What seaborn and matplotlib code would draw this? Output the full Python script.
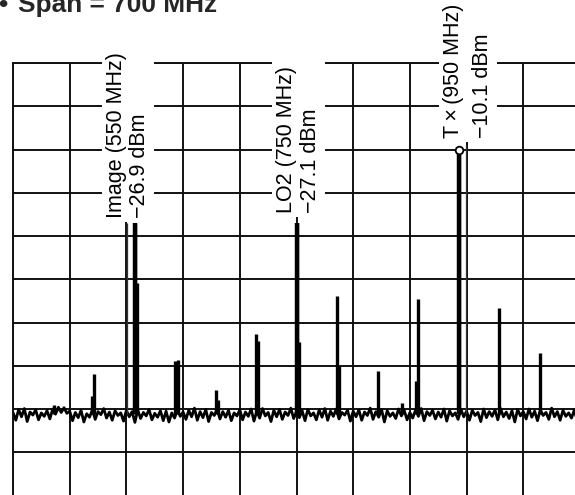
import numpy as np
import pandas as pd
import matplotlib
matplotlib.use("Agg")
import matplotlib.pyplot as plt
import seaborn as sns

# analyzer settings
start_mhz = 400
stop_mhz = 1100
ref_dbm = 10
bottom_dbm = -90
title = "Span = 700 MHz"

# noise floor trace (dBm), 201 samples across the span
noise_dbm = [
    -70.8, -72.6, -70.1, -71.8, -69.9, -72.9, -70.7, -71.4, -70.2, -72.5, -70.9, -71.7, -70.4, -72.3, -70.0, -71.2, -69.6, -70.8, -69.7, -71.0,
    -70.5, -72.7, -70.8, -72.0, -70.3, -73.0, -71.1, -71.9, -70.2, -72.4, -70.6, -71.3, -69.9, -72.1, -70.7, -72.6, -70.4, -71.5, -70.9, -72.8,
    -70.3, -71.8, -70.6, -73.1, -70.2, -72.2, -70.8, -71.6, -70.1, -72.5, -71.0, -71.9, -70.4, -72.7, -70.5, -73.0, -70.9, -72.1, -70.2, -71.7,
    -70.7, -72.4, -70.3, -71.8, -69.8, -72.6, -70.6, -72.0, -70.1, -72.9, -70.8, -71.5, -70.0, -72.3, -70.6, -71.9, -70.3, -72.7, -70.9, -71.6,
    -70.2, -72.5, -70.7, -71.7, -70.0, -72.8, -70.5, -72.1, -69.9, -71.6, -70.8, -72.9, -70.3, -71.8, -70.1, -72.4, -70.7, -71.5, -69.8, -72.2,
    -70.6, -72.0, -70.4, -72.7, -70.1, -71.6, -70.9, -72.5, -70.2, -71.9, -69.9, -72.6, -70.5, -71.7, -70.0, -72.3, -70.8, -71.4, -70.3, -72.8,
    -70.5, -71.8, -70.2, -72.6, -70.7, -71.5, -69.8, -72.4, -70.6, -71.9, -70.1, -73.0, -70.4, -71.7, -70.9, -72.2, -70.0, -71.6, -70.3, -72.5,
    -70.8, -72.1, -70.2, -71.7, -69.9, -72.7, -70.6, -71.5, -70.3, -72.3, -70.7, -71.9, -70.0, -72.8, -70.4, -71.6, -70.9, -72.4, -70.1, -71.8,
    -70.5, -72.6, -70.3, -71.5, -70.8, -72.9, -70.0, -72.0, -70.6, -71.7, -70.2, -72.5, -69.9, -71.8, -70.7, -72.2, -70.4, -73.0, -70.1, -71.6,
    -70.6, -72.3, -70.0, -71.9, -70.5, -72.7, -70.2, -71.5, -70.8, -72.4, -69.8, -71.8, -70.6, -72.6, -70.3, -71.7, -70.9, -72.1, -70.2, -72.8,
    -70.7,
]

# spurs: frequency and peak level
spur_mhz = [450, 500, 550, 600, 650, 700, 750, 800, 850, 880, 900, 950, 1000, 1050]
spur_dbm = [-69.0, -62.0, -26.9, -59.0, -65.5, -52.7, -27.1, -43.9, -61.3, -68.7, -44.6, -10.1, -46.7, -57.1]

# second sample beside some spurs
shoulder_mhz = [497.5, 553, 603.5, 653, 703, 753, 803, 897.5]
shoulder_dbm = [-67.0, -40.9, -58.6, -68.0, -54.3, -54.6, -60.0, -63.6]

# thin marker lines
marker_mhz = [541, 959]
marker_dbm = [-26.9, -9.0]

# labelled signals (anchor = start of the last text line)
label_mhz = [561, 770, 977]
label_dbm = [-25.9, -24.7, -7.4]
label_text = [
    "Image (550 MHz)\n\u221226.9 dBm",
    "LO2 (750 MHz)\n\u221227.1 dBm",
    "T\u2009\u00d7\u2009(950 MHz)\n\u221210.1 dBm",
]
label_spacing = [1.12, 1.2, 1.5]

sns.set_theme(style="white")
plt.rcParams["font.family"] = ["Liberation Sans", "DejaVu Sans"]

W, H = 575, 495
fig = plt.figure(figsize=(W / 100, H / 100), dpi=100)
ax = fig.add_axes([13 / W, -0.5 / H, 567 / W, 432.5 / H])

freq = np.linspace(start_mhz, stop_mhz, len(noise_dbm))
trace = pd.DataFrame({"freq": freq, "level": noise_dbm})
sns.lineplot(data=trace, x="freq", y="level", color="black", lw=2.0, ax=ax)

floor = -71.2
ax.vlines(shoulder_mhz, floor, shoulder_dbm, color="black", lw=2.4)
ax.vlines(spur_mhz, floor, spur_dbm, color="black", lw=2.4)
big = [i for i, v in enumerate(spur_dbm) if v > -30]
ax.vlines([spur_mhz[i] for i in big], floor, [spur_dbm[i] for i in big], color="black", lw=3.2)
ax.vlines(marker_mhz, floor, marker_dbm, color="#333333", lw=0.9)

# marker on the Tx peak
ax.plot([spur_mhz[11]], [spur_dbm[11]], marker="o", ms=5.5, mfc="white", mec="black", mew=1.3, zorder=5)

for fx, ly, s, sp in zip(label_mhz, label_dbm, label_text, label_spacing):
    ax.text(fx, ly, s, rotation=90, rotation_mode="anchor", ha="left", va="baseline",
            fontsize=15.5, linespacing=sp, color="black", clip_on=False, zorder=6,
            bbox=dict(fc="white", ec="none", pad=3))

ax.set_xlim(start_mhz, stop_mhz)
ax.set_ylim(bottom_dbm, ref_dbm)
ax.set_xticks(np.arange(start_mhz, stop_mhz + 1, 70))
ax.set_yticks(np.arange(bottom_dbm, ref_dbm + 1, 10))
ax.tick_params(length=0, labelbottom=False, labelleft=False)
ax.set_xlabel("")
ax.set_ylabel("")
ax.grid(True, color="#111111", lw=1.4)
ax.set_axisbelow(True)
for sp in ax.spines.values():
    sp.set_color("#111111")
    sp.set_linewidth(1.4)

fig.text(18 / W, 1 - 12 / H, title, fontsize=18.9, fontweight="bold", ha="left", va="baseline")
fig.text(7 / W, 1 - 12 / H, "\u2022", fontsize=18.9, fontweight="bold", ha="right", va="baseline")

fig.savefig("out.png", dpi=100)
